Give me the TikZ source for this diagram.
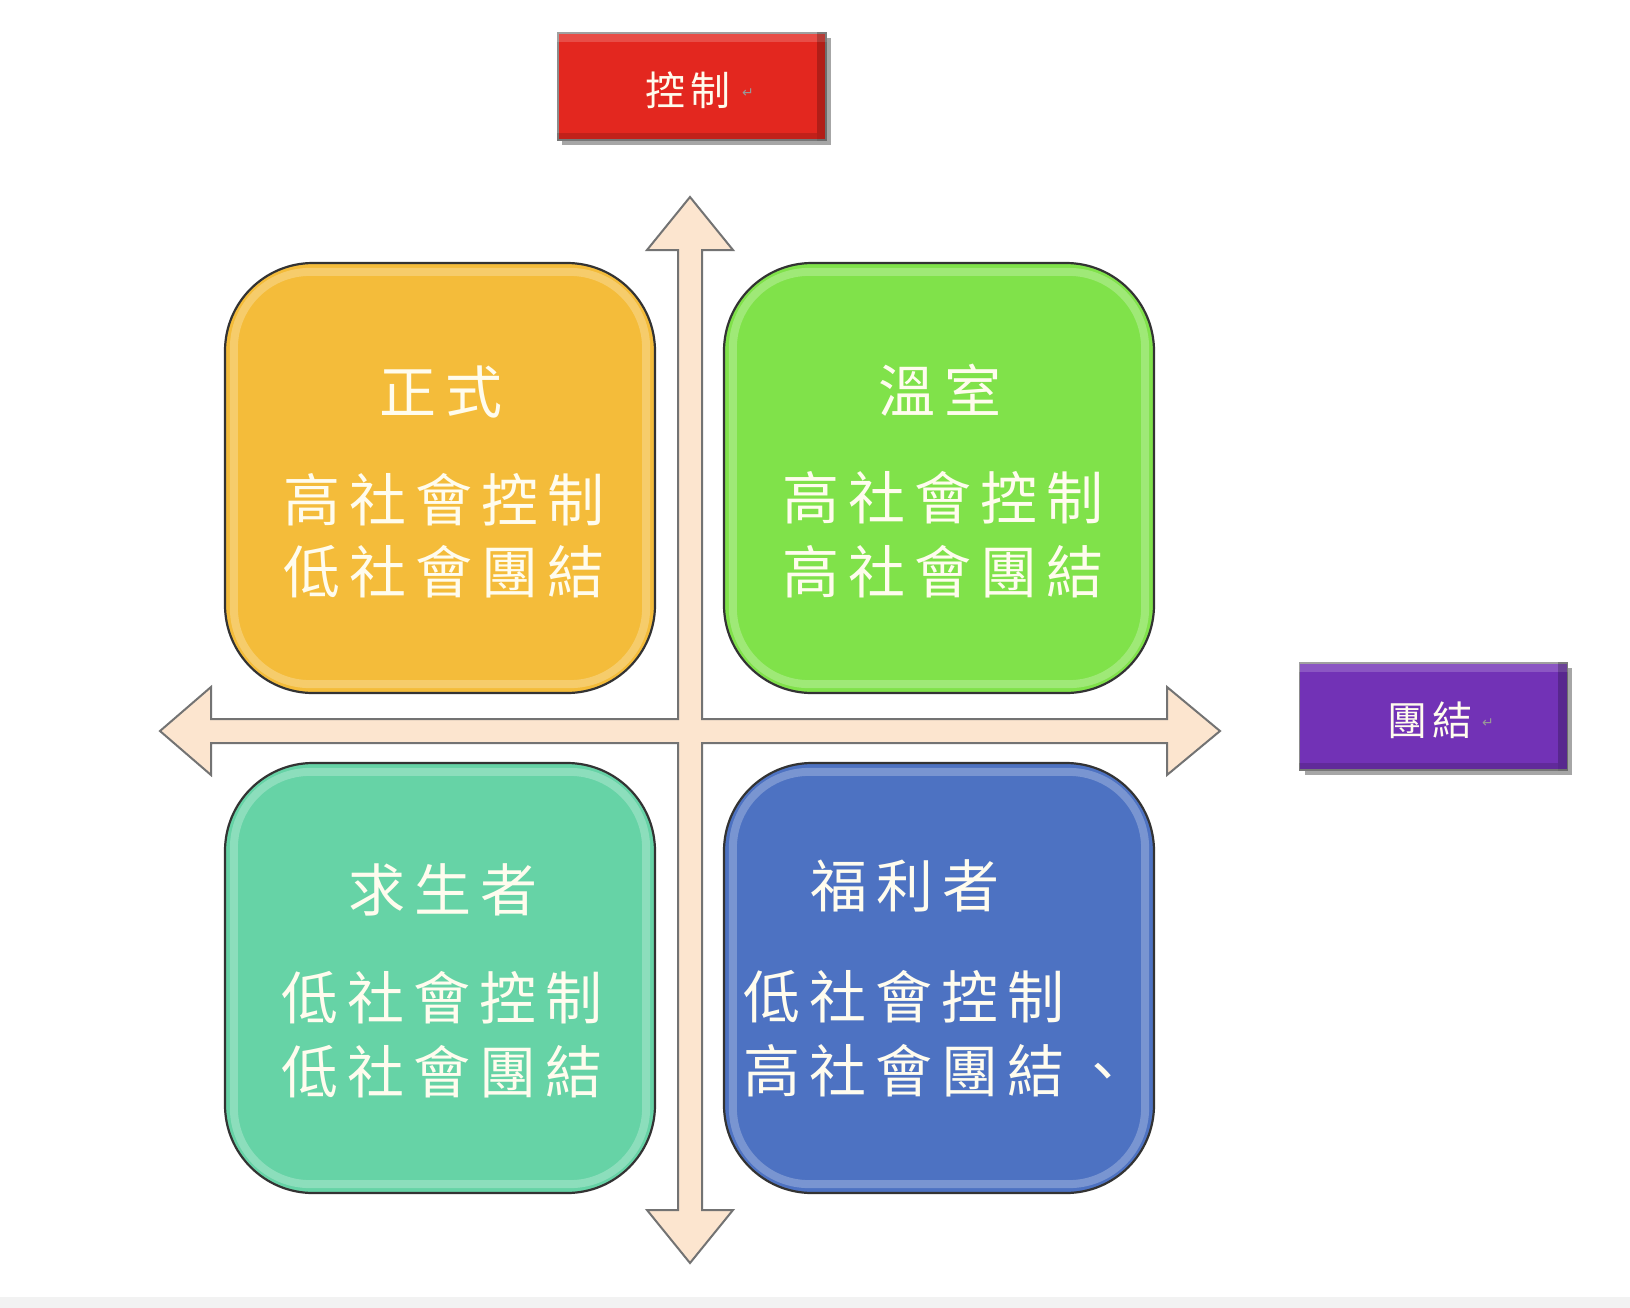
\documentclass[tikz,border=0pt]{standalone}
\usepackage{fontspec}
\newfontfamily\cjk[LetterSpace=16]{Noto Sans CJK TC}
\newfontfamily\cjkhead[LetterSpace=12]{Noto Sans CJK TC}
\newfontfamily\dejavu{DejaVu Sans}
\definecolor{qyellow}{HTML}{F4BC3A}
\definecolor{qgreen}{HTML}{80E24A}
\definecolor{qteal}{HTML}{66D3A6}
\definecolor{qblue}{HTML}{4D72C2}
\definecolor{hred}{HTML}{E3271F}
\definecolor{hpurple}{HTML}{7232B6}
\definecolor{peach}{HTML}{FCE5CF}
\definecolor{txt}{HTML}{FFFCEE}
\tikzset{
  quad/.style={draw=black!80, line width=1.1pt, rounded corners=44pt,
    minimum width=215pt, minimum height=215pt, inner sep=0pt},
  gloss/.style={draw=white, opacity=.25, line width=4pt, rounded corners=38pt},
  qtext/.style={text=txt, font=\cjk\fontsize{28.5}{36}\selectfont, inner sep=0pt},
  hbox/.style={draw=black!45, line width=0.8pt, minimum width=134pt, minimum height=53.5pt, inner sep=0pt},
  htext/.style={text=txt, font=\cjkhead\fontsize{20}{24}\selectfont, inner sep=0pt},
  crossarrow/.style={fill=peach, draw=black!55, line width=1pt, line join=miter},
  pmark/.style={text=black!40, font=\dejavu\fontsize{7}{8}\selectfont, inner sep=0pt}
}
\begin{document}
\begin{tikzpicture}[x=0.5pt,y=-0.5pt]
\useasboundingbox (0,0) rectangle (1630,1308);
\fill[white] (0,0) rectangle (1630,1308);
\fill[black!5] (0,1297) rectangle (1630,1308);

% cross arrows
\draw[crossarrow] (690,197) -- (733,250) -- (702,250) -- (702,719) -- (1167,719)
  -- (1167,687) -- (1220,731) -- (1167,775) -- (1167,743) -- (702,743)
  -- (702,1210) -- (733,1210) -- (690,1263) -- (647,1210) -- (678,1210)
  -- (678,743) -- (211,743) -- (211,775) -- (160,731) -- (211,687)
  -- (211,719) -- (678,719) -- (678,250) -- (647,250) -- cycle;

% quadrants
\node[quad, fill=qyellow] (yq) at (440,478) {};
\node[quad, fill=qgreen]  (gq) at (939,478) {};
\node[quad, fill=qteal]   (tq) at (440,978) {};
\node[quad, fill=qblue]   (bq) at (939,978) {};
\foreach \q in {yq,gq,tq,bq}{
  \draw[gloss] ([shift={(10,10)}]\q.north west) rectangle ([shift={(-10,-10)}]\q.south east);
}

% quadrant texts
\node[qtext] (yt) at (441,392) {正式};
\node[qtext] (y1) at (444,500) {高社會控制};
\node[qtext] (y2) at (444,572) {低社會團結};

\node[qtext] (gt) at (940,390) {溫室};
\node[qtext] (g1) at (943,498) {高社會控制};
\node[qtext] (g2) at (943,572) {高社會團結};

\node[qtext] (tt) at (443,890) {求生者};
\node[qtext] (t1) at (442,998) {低社會控制};
\node[qtext] (t2) at (442,1072) {低社會團結};

\node[qtext, anchor=west] (bt) at (810,886) {福利者};
\node[qtext, anchor=west] (b1) at (743,997) {低社會控制};
\node[qtext, anchor=west] (b2) at (743,1071) {高社會團結、};

% header boxes
\fill[black!35] (562,38) rectangle (831,145);
\node[hbox, fill=hred] (ctrl) at (692,86.5) {};
\fill[white, opacity=.18] (ctrl.north west) rectangle ([yshift=-5pt]ctrl.north east);
\fill[black, opacity=.22] ([xshift=-5pt]ctrl.north east) rectangle (ctrl.south east);
\fill[black, opacity=.15] (ctrl.south west) rectangle ([xshift=-5pt,yshift=4pt]ctrl.south east);
\node[htext] (ctrlt) at (688,90) {控制};
\node[pmark] (ctrlp) at (748,93) {↵};

\fill[black!35] (1305,668) rectangle (1572,775);
\node[hbox, fill=hpurple] (coh) at (1433.5,716.5) {};
\fill[white, opacity=.18] (coh.north west) rectangle ([yshift=-5pt]coh.north east);
\fill[black, opacity=.22] ([xshift=-5pt]coh.north east) rectangle (coh.south east);
\fill[black, opacity=.15] (coh.south west) rectangle ([xshift=-5pt,yshift=4pt]coh.south east);
\node[htext] (coht) at (1430,720) {團結};
\node[pmark] (cohp) at (1488,723) {↵};
\end{tikzpicture}
\end{document}
